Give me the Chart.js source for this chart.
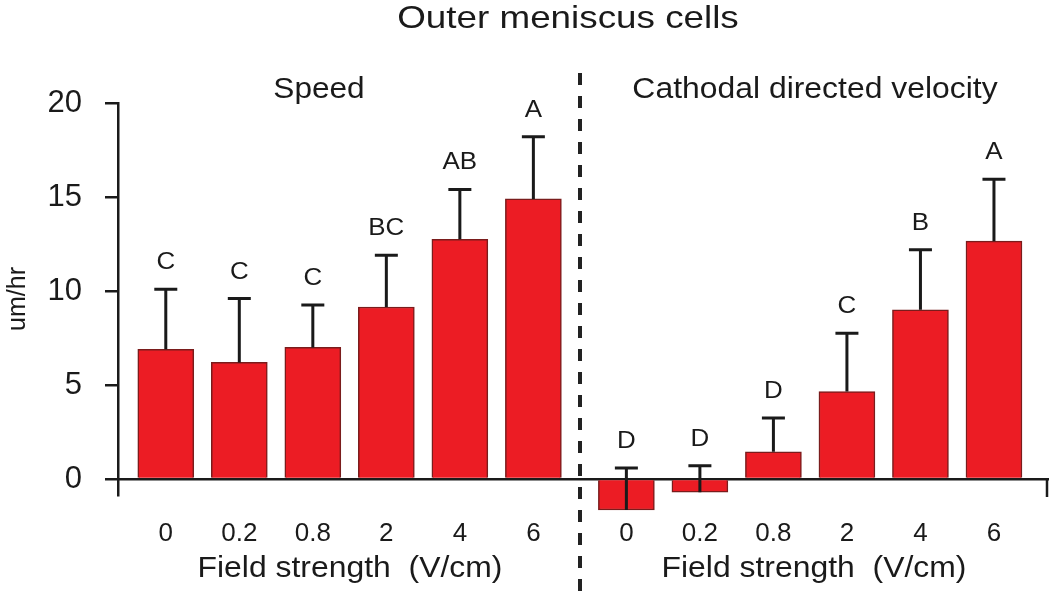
<!DOCTYPE html>
<html>
<head>
<meta charset="utf-8">
<script src="https://cdn.jsdelivr.net/npm/chart.js@4/dist/chart.umd.min.js"></script>
<style>
  body { margin: 0; background: #fff; }
  #wrap { width: 1050px; height: 591px; position: relative; }
</style>
</head>
<body>
<div id="wrap"><canvas id="barChart"></canvas></div>
<script>
const fieldStrengths = ['0', '0.2', '0.8', '2', '4', '6'];

const speedMeans = [6.9, 6.2, 7.0, 9.15, 12.75, 14.9];
const speedErrors = [3.2, 3.4, 2.25, 2.75, 2.65, 3.3];
const speedLetters = ['C', 'C', 'C', 'BC', 'AB', 'A'];

const velocityMeans = [-1.65, -0.7, 1.45, 4.65, 9.0, 12.65];
const velocityErrors = [2.23, 1.4, 1.8, 3.1, 3.2, 3.3];
const velocityLetters = ['D', 'D', 'D', 'C', 'B', 'A'];

const yTicks = [0, 5, 10, 15, 20];

// right group starts after a wider gap than the bar spacing
const rightStart = 6.265;
const FONT = '"Liberation Sans", Arial, sans-serif';
const INK = '#1a1a1a';

const speedPoints = speedMeans.map((v, i) => ({ x: i, y: v }));
const velocityPoints = velocityMeans.map((v, i) => ({ x: rightStart + i, y: v }));
const tickPositions = fieldStrengths.map((_, i) => i)
  .concat(fieldStrengths.map((_, i) => rightStart + i));

function labelFor(value) {
  const idx = tickPositions.findIndex(p => Math.abs(p - value) < 0.01);
  return idx < 0 ? '' : fieldStrengths[idx % fieldStrengths.length];
}

// the source figure's lettering is a little wider than Arial
function wideText(ctx, text, x, y, size, sx) {
  ctx.save();
  ctx.font = size + 'px ' + FONT;
  ctx.translate(x, y);
  ctx.scale(sx, 1);
  ctx.fillText(text, 0, 0);
  ctx.restore();
}

const barStyle = {
  backgroundColor: '#ec1c24',
  borderColor: '#7a1c1c',
  borderWidth: 1.5,
  barThickness: 56,
  grouped: false,
  clip: false
};

const errorBars = {
  id: 'errorBars',
  afterDatasetsDraw(chart) {
    const { ctx, scales: { y } } = chart;
    const errs = [speedErrors, velocityErrors];
    const letters = [speedLetters, velocityLetters];
    const means = [speedMeans, velocityMeans];
    ctx.save();
    ctx.strokeStyle = INK;
    ctx.lineWidth = 3;
    ctx.fillStyle = INK;
    ctx.textAlign = 'center';
    ctx.textBaseline = 'alphabetic';
    chart.data.datasets.forEach((ds, d) => {
      const meta = chart.getDatasetMeta(d);
      meta.data.forEach((bar, i) => {
        const y0 = y.getPixelForValue(means[d][i]);
        const y1 = y.getPixelForValue(means[d][i] + errs[d][i]);
        ctx.beginPath();
        ctx.moveTo(bar.x, y0);
        ctx.lineTo(bar.x, y1);
        ctx.moveTo(bar.x - 11.5, y1);
        ctx.lineTo(bar.x + 11.5, y1);
        ctx.stroke();
        wideText(ctx, letters[d][i], bar.x, y1 - 20, 24, 1.08);
      });
    });
    ctx.restore();
  }
};

const decorations = {
  id: 'decorations',
  afterDraw(chart) {
    const { ctx, chartArea, scales: { y } } = chart;
    ctx.save();
    // right end tick on the zero line
    ctx.strokeStyle = INK;
    ctx.lineWidth = 2.5;
    ctx.beginPath();
    ctx.moveTo(chartArea.right - 1, y.getPixelForValue(0));
    ctx.lineTo(chartArea.right - 1, chartArea.bottom + 2);
    ctx.stroke();

    // dashed separator
    ctx.strokeStyle = '#222';
    ctx.lineWidth = 4;
    ctx.setLineDash([12, 11]);
    ctx.beginPath();
    ctx.moveTo(580, 73);
    ctx.lineTo(580, 591);
    ctx.stroke();
    ctx.setLineDash([]);

    ctx.fillStyle = INK;
    ctx.textAlign = 'center';
    ctx.textBaseline = 'alphabetic';
    wideText(ctx, 'Outer meniscus cells', 568, 28, 32, 1.15);
    wideText(ctx, 'Speed', 319, 98, 29, 1.09);
    wideText(ctx, 'Cathodal directed velocity', 815, 98, 29, 1.1);
    wideText(ctx, 'Field strength  (V/cm)', 350, 577, 29, 1.1);
    wideText(ctx, 'Field strength  (V/cm)', 814, 577, 29, 1.1);
    ctx.restore();
  }
};

new Chart(document.getElementById('barChart'), {
  type: 'bar',
  data: {
    datasets: [
      { label: 'Speed', data: speedPoints, ...barStyle },
      { label: 'Cathodal directed velocity', data: velocityPoints, ...barStyle }
    ]
  },
  options: {
    responsive: true,
    maintainAspectRatio: false,
    animation: false,
    layout: { padding: { top: 103, right: 2, bottom: 96, left: 0 } },
    plugins: {
      legend: { display: false },
      tooltip: { enabled: false }
    },
    scales: {
      x: {
        type: 'linear',
        offset: false,
        position: { y: 0 },
        min: -0.65,
        max: 12.0,
        afterBuildTicks(scale) {
          scale.ticks = tickPositions.map(v => ({ value: v }));
        },
        grid: { display: false, offset: false },
        border: { display: true, color: INK, width: 2.5 },
        ticks: {
          autoSkip: false,
          maxRotation: 0,
          padding: 31,
          color: INK,
          font: { family: FONT, size: 26 },
          callback: (value) => labelFor(value)
        }
      },
      y: {
        min: -0.85,
        max: 20,
        afterBuildTicks(scale) {
          scale.ticks = yTicks.map(v => ({ value: v }));
        },
        afterFit(scale) { scale.width = 118; },
        grid: {
          drawOnChartArea: false,
          drawTicks: true,
          tickLength: 13,
          color: INK,
          lineWidth: 2.5
        },
        border: { display: true, color: INK, width: 2.5 },
        ticks: {
          padding: 23,
          color: INK,
          font: { family: FONT, size: 31 }
        },
        title: {
          display: true,
          text: 'um/hr',
          color: INK,
          font: { family: FONT, size: 25 },
          padding: 3
        }
      }
    }
  },
  plugins: [errorBars, decorations]
});
</script>
</body>
</html>
